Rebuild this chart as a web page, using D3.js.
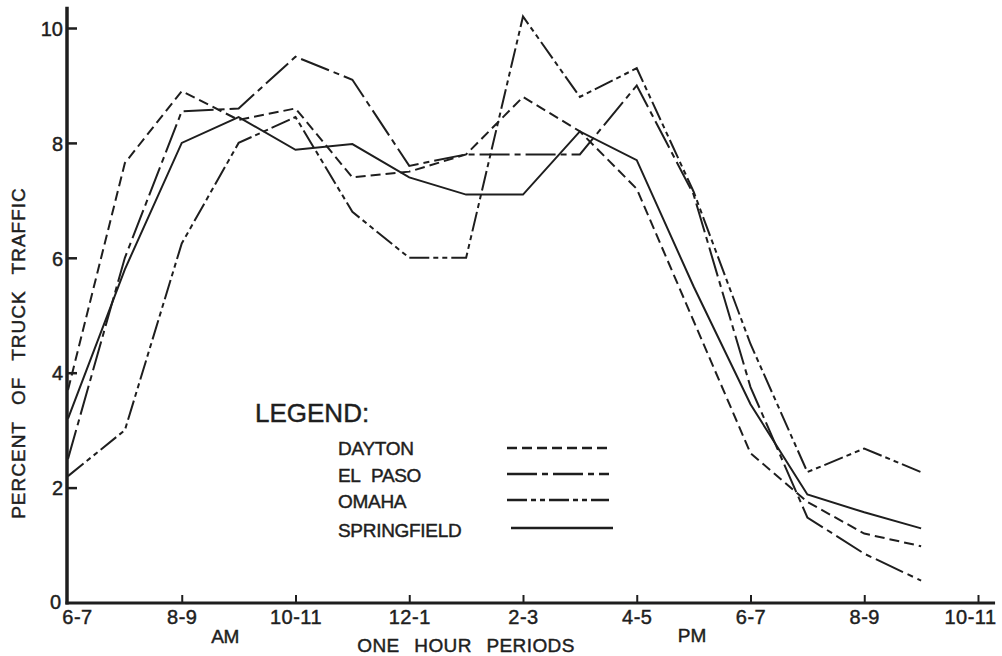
<!DOCTYPE html>
<html>
<head>
<meta charset="utf-8">
<script src="https://cdn.jsdelivr.net/npm/d3@7"></script>
<style>
  html, body { margin: 0; padding: 0; background: #ffffff; }
  svg { display: block; }
  text { font-family: "Liberation Sans", Arial, sans-serif; fill: #1e1e1e; stroke: #1e1e1e; stroke-width: 0.45px; }
</style>
</head>
<body>
<svg id="chart" width="1002" height="656"></svg>
<script>
// ---- data ----
const periods = ["6-7","7-8","8-9","9-10","10-11","11-12","12-1","1-2","2-3","3-4","4-5","5-6","6-7","7-8","8-9","9-10"];
const tickLabels = ["6-7","8-9","10-11","12-1","2-3","4-5","6-7","8-9","10-11"];
const yTicks = [0, 2, 4, 6, 8, 10];
const dayton      = [3.7, 7.65, 8.9, 8.4, 8.6, 7.4, 7.5, 7.8, 8.8, 8.2, 7.2, 4.9, 2.6, 1.75, 1.2, 0.98];
const elPaso      = [2.5, 6.0, 8.55, 8.6, 9.5, 9.1, 7.6, 7.8, 7.8, 7.8, 9.0, 7.1, 3.75, 1.48, 0.85, 0.38];
const omaha       = [2.2, 3.0, 6.25, 8.0, 8.45, 6.8, 6.0, 6.0, 10.2, 8.8, 9.3, 7.15, 4.5, 2.27, 2.68, 2.27];
const springfield = [3.2, 5.8, 8.0, 8.45, 7.88, 7.98, 7.4, 7.1, 7.1, 8.2, 7.7, 5.5, 3.45, 1.88, 1.57, 1.29];
const seriesNames = ["DAYTON", "EL PASO", "OMAHA", "SPRINGFIELD"];

const series = [
  { name: seriesNames[0], values: dayton,      dash: "10,5" },
  { name: seriesNames[1], values: elPaso,      dash: "30,5,6,5" },
  { name: seriesNames[2], values: omaha,       dash: "20,4,5,4,5,4" },
  { name: seriesNames[3], values: springfield, dash: null }
];

const svg = d3.select("#chart");
const ink = "#1e1e1e";

// scales: one step per hour period, 16 steps spans 6-7 AM to 10-11 PM
const x = d3.scaleLinear().domain([0, 16]).range([68, 978]);
const y = d3.scaleLinear().domain([0, 10]).range([602.5, 28]);

// axes lines
svg.append("line").attr("x1", 67).attr("x2", 67).attr("y1", y(10.37)).attr("y2", 604.5)
  .attr("stroke", ink).attr("stroke-width", 3.5);
svg.append("line").attr("x1", 65.5).attr("x2", x(16.3)).attr("y1", 603).attr("y2", 603)
  .attr("stroke", ink).attr("stroke-width", 3);

// y axis ticks (inward) and labels
const yAxis = d3.axisLeft(y).tickValues(yTicks).tickSizeInner(-10).tickSizeOuter(0).tickPadding(6)
  .tickFormat(d3.format("d"));
const gy = svg.append("g").attr("transform", "translate(67,0)").call(yAxis);
gy.select(".domain").remove();
gy.selectAll(".tick line").attr("stroke", ink).attr("stroke-width", 2.5)
  .filter(d => d === 0).remove();
gy.selectAll(".tick text").attr("font-size", 20).attr("fill", ink)
  .attr("font-family", "Liberation Sans, Arial, sans-serif")
  .attr("x", -4).attr("dy", "0.36em");
gy.selectAll(".tick").filter(d => d === 0).select("text").attr("dy", "0.3em").attr("x", -6);

// x axis ticks (inward) and labels
const xAxis = d3.axisBottom(x).tickValues(d3.range(0, 17, 2)).tickSizeInner(-8).tickSizeOuter(0).tickPadding(10)
  .tickFormat((d, i) => tickLabels[i]);
const gx = svg.append("g").attr("transform", "translate(0,603)").call(xAxis);
gx.select(".domain").remove();
gx.selectAll(".tick line").attr("stroke", ink).attr("stroke-width", 2)
  .filter(d => d === 0).remove();
gx.selectAll(".tick text").attr("font-size", 20).attr("fill", ink)
  .attr("font-family", "Liberation Sans, Arial, sans-serif")
  .attr("letter-spacing", 0.5).attr("dy", "0.72em").attr("y", 7);
gx.selectAll(".tick").filter(d => d === 0).select("text").attr("dx", 9);
gx.selectAll(".tick").filter(d => d === 16).select("text").attr("dx", -8);

// series lines
const line = d3.line().x((d, i) => x(i)).y(d => y(d));
svg.append("g").selectAll("path").data(series).join("path")
  .attr("d", s => line(s.values))
  .attr("fill", "none")
  .attr("stroke", ink)
  .attr("stroke-width", 2)
  .attr("stroke-linejoin", "miter")
  .attr("stroke-dasharray", s => s.dash);

// axis titles
svg.append("text").attr("transform", "translate(25,353) rotate(-90)")
  .attr("text-anchor", "middle").attr("font-size", 19)
  .attr("letter-spacing", 1).attr("word-spacing", 10)
  .text("PERCENT OF TRUCK TRAFFIC");
svg.append("text").attr("x", 466).attr("y", 652).attr("text-anchor", "middle")
  .attr("font-size", 19).attr("letter-spacing", 0.4).attr("word-spacing", 9)
  .text("ONE HOUR PERIODS");
svg.append("text").attr("x", 225).attr("y", 643).attr("text-anchor", "middle")
  .attr("font-size", 19).attr("letter-spacing", -0.5).text("AM");
svg.append("text").attr("x", 692).attr("y", 642).attr("text-anchor", "middle")
  .attr("font-size", 19).text("PM");

// legend
svg.append("text").attr("x", 255).attr("y", 422).attr("font-size", 26).text("LEGEND:");
const legendRows = [455, 482, 508, 537];
const legendLineY = [448, 474, 500, 528];
const lg = svg.append("g");
series.forEach((s, i) => {
  lg.append("text").attr("x", 338).attr("y", legendRows[i]).attr("font-size", 19)
    .attr("letter-spacing", -0.3).attr("word-spacing", 6).text(s.name);
  lg.append("line")
    .attr("x1", i === 3 ? 511 : 507).attr("x2", i === 3 ? 613 : 609)
    .attr("y1", legendLineY[i]).attr("y2", legendLineY[i])
    .attr("stroke", ink).attr("stroke-width", 2.5)
    .attr("stroke-dasharray", s.dash);
});
</script>
</body>
</html>
